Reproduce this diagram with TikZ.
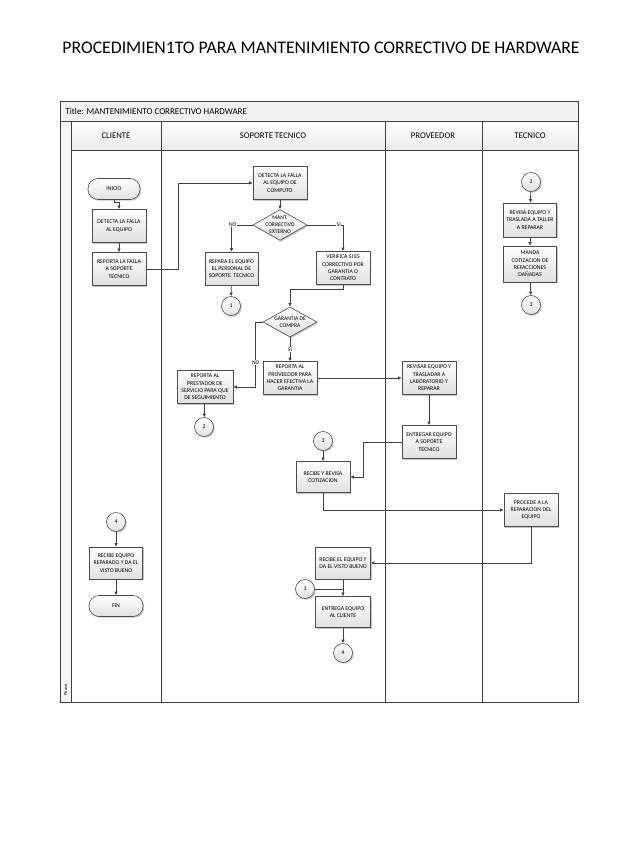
\documentclass[tikz,border=0pt]{standalone}
\usepackage{fontspec}
\setmainfont{Carlito}
\usetikzlibrary{shapes.geometric,arrows.meta,shadows}

\begin{document}
\begin{tikzpicture}[x=1pt,y=-1pt,
    line/.style={draw=black!75,line width=0.8pt},
    flow/.style={line,-{Latex[length=3.5pt,width=3.5pt]}},
    proc/.style={draw=black!70,line width=0.6pt,top color=white,bottom color=black!12,
      drop shadow={shadow xshift=1.2pt,shadow yshift=-1.2pt,fill=black!45},
      minimum width=54pt,minimum height=33pt,inner sep=1pt,align=center,
      font=\fontsize{5.8}{7.3}\selectfont},
    term/.style={proc,rounded corners=10pt,minimum height=21pt},
    decide/.style={proc,diamond,minimum width=54pt,minimum height=31pt,inner sep=0pt},
    conn/.style={proc,circle,minimum width=19pt,minimum height=19pt},
    dtext/.style={align=center,font=\fontsize{5.6}{7}\selectfont},
    lbl/.style={fill=white,inner sep=0.5pt,font=\fontsize{5.6}{6}\selectfont},
    lane/.style={font=\fontsize{8.7}{10}\selectfont}]
  \useasboundingbox (0,0) rectangle (638,859);
  \node[font=\fontsize{17.7}{21}\selectfont] (title) at (321,48) {PROCEDIMIEN1TO PARA MANTENIMIENTO CORRECTIVO DE HARDWARE};

  \fill[black!5] (60,101) rectangle (578,121);
  \fill[black!4] (60,121) rectangle (71,702);
  \shade[top color=white,bottom color=black!8] (71,121) rectangle (578,150);
  \draw[line] (60,101) rectangle (578,702);
  \draw[line] (60,121) -- (578,121) (71,150) -- (578,150);
  \foreach \x in {71,161,385,482}
    \draw[line] (\x,121) -- (\x,702);
  \node[anchor=west,font=\fontsize{9}{10}\selectfont] (ttl) at (62,111) {Title: MANTENIMIENTO CORRECTIVO HARDWARE};
  \node[lane] (hcli) at (116,136) {CLIENTE};
  \node[lane] (hsop) at (273,136) {SOPORTE TECNICO};
  \node[lane] (hprov) at (433,136) {PROVEEDOR};
  \node[lane] (htec) at (530,136) {TECNICO};
  \node[rotate=90,font=\fontsize{4.5}{4.5}\selectfont] (phase) at (65.5,690) {Phase};

  \node[term,minimum width=52pt] (inicio) at (114,189) {INICIO};
  \node[proc] (det1) at (119,226) {DETECTA LA FALLA\\AL EQUIPO};
  \node[proc] (rep1) at (119,269) {REPORTA LA FALLA\\A SOPORTE\\TECNICO};
  \node[proc] (det2) at (280,183) {DETECTA LA FALLA\\AL EQUIPO DE\\COMPUTO};
  \node[decide,label={[dtext]center:MANT.\\CORRECTIVO\\EXTERNO}] (mant) at (280,225) {};
  \node[proc,minimum width=53pt] (repara) at (231.5,268.5) {REPARA EL EQUIPO\\EL PERSONAL DE\\SOPORTE \ TECNICO};
  \node[proc] (verif) at (343,268) {VERIFICA SI ES\\CORRECTIVO POR\\GARANTIA O\\CONTRATO};
  \node[conn] (c1) at (231,306) {1};
  \node[decide,minimum height=30pt,label={[dtext]center:GARANTIA DE\\COMPRA}] (garant) at (290,322) {};
  \node[proc] (prov) at (290,378) {REPORTA AL\\PROVEEDOR PARA\\HACER EFECTIVA LA\\GARANTIA};
  \node[proc,minimum width=56pt] (prest) at (205,387) {REPORTA AL\\PRESTADOR DE\\SERVICIO PARA QUE\\DE SEGUIMIENTO};
  \node[conn] (c2) at (204,427) {2};
  \node[proc] (revisa) at (429,378) {REVISAR EQUIPO Y\\TRASLADAR A\\LABORATORIO Y\\REPARAR};
  \node[proc] (entrega) at (429,442) {ENTREGAR EQUIPO\\A SOPORTE\\TECNICO};
  \node[conn] (c3) at (323,441) {3};
  \node[proc,minimum height=31pt] (recibe) at (323,477) {RECIBE Y REVISA\\COTIZACION};
  \node[proc] (procede) at (531,510) {PROCEDE A LA\\REPARACION DEL\\EQUIPO};
  \node[proc,minimum width=55pt,minimum height=32pt] (recvb) at (343,563) {RECIBE EL EQUIPO Y\\DA EL VISTO BUENO};
  \node[conn] (c1b) at (305,589) {1};
  \node[proc,minimum width=55pt,minimum height=31pt] (entcl) at (343,612) {ENTREGA EQUIPO\\AL CLIENTE};
  \node[conn] (c4) at (343,653) {4};
  \node[conn] (c4b) at (116,522) {4};
  \node[proc,minimum width=53pt,minimum height=32pt] (recvc) at (116,563) {RECIBE EQUIPO\\REPARADO Y DA EL\\VISTO BUENO};
  \node[term,minimum width=54pt] (fin) at (116,606) {FIN};
  \node[conn] (c2b) at (531,182) {2};
  \node[proc,minimum width=53pt,minimum height=34pt] (revt) at (530,220) {REVISA EQUIPO Y\\TRASLADA A TALLER\\A REPARAR};
  \node[proc,minimum width=53pt,minimum height=36pt] (manda) at (530,264) {MANDA\\COTIZACION DE\\REFACCIONES\\DAÑADAS};
  \node[conn] (c3b) at (531,305) {3};

  \draw[flow] (inicio.south) -- ++(0,3) -| (det1.north);
  \draw[flow] (det1) -- (rep1);
  \draw[flow] (rep1.east) -- ++(32,0) |- (det2.west);
  \draw[flow] (det2) -- (mant);
  \draw[flow] (mant.west) -| node[lbl,pos=0.47] {NO} (repara.north);
  \draw[flow] (mant.east) -| node[lbl,pos=0.44] {SI} (verif.north);
  \draw[flow] (repara) -- (c1);
  \draw[flow] (verif.south) -- ++(0,5) -| (garant.north);
  \draw[flow] (garant.west) -- ++(-7,0) |- node[lbl,pos=0.31] {NO} (prest.east);
  \draw[flow] (garant.south) -- node[lbl,pos=0.5] {SI} (prov.north);
  \draw[flow] (prest) -- (c2);
  \draw[flow] (prov) -- (revisa);
  \draw[flow] (revisa) -- (entrega);
  \draw[flow] (entrega.west) -- ++(-38,0) |- (recibe.east);
  \draw[flow] (c3) -- (recibe);
  \draw[flow] (recibe.south) |- (procede.west);
  \draw[flow] (procede.south) |- (recvb.east);
  \draw[flow] (recvb) -- (entcl);
  \draw[line] (c1b.east) -- (c1b.east -| entcl.north);
  \draw[flow] (entcl) -- (c4);
  \draw[flow] (c4b) -- (recvc);
  \draw[flow] (recvc) -- (fin);
  \draw[flow] (c2b) -- (revt);
  \draw[flow] (revt) -- (manda);
  \draw[flow] (manda) -- (c3b);
\end{tikzpicture}
\end{document}
